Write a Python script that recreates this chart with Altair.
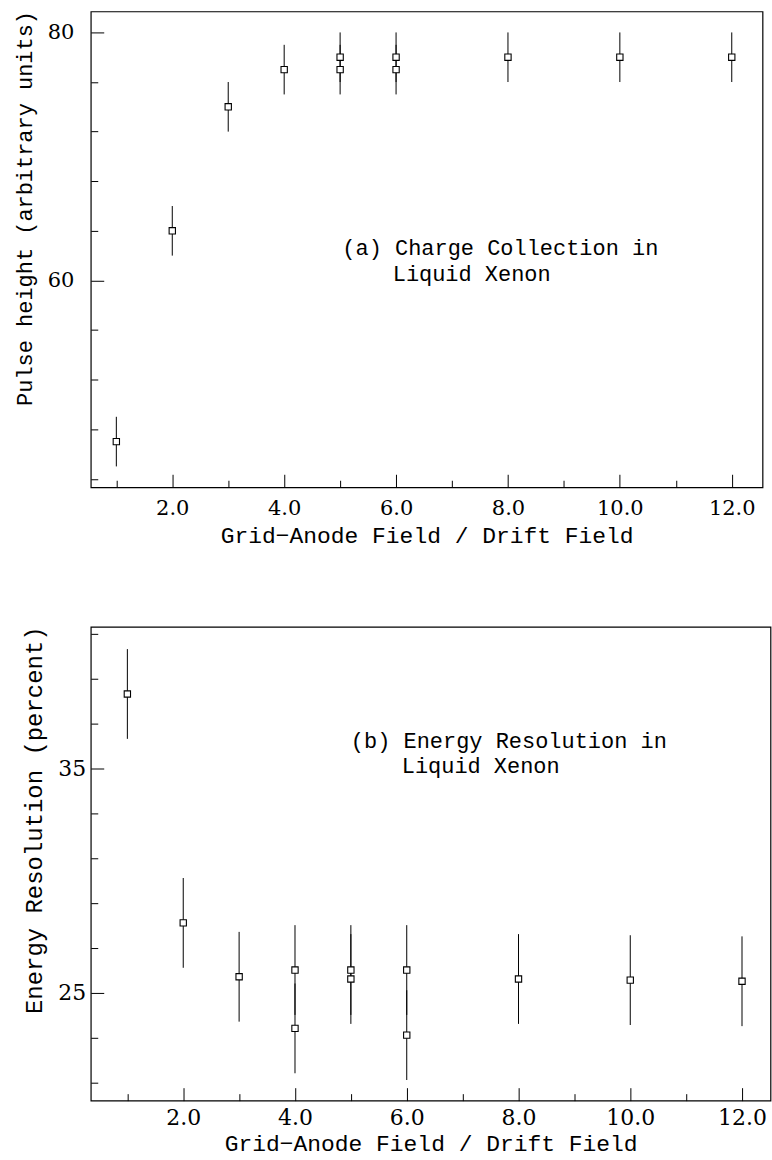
import altair as alt
import pandas as pd

# ---------------- data ----------------
# Panel (a): pulse height vs field ratio
a_x = [1, 2, 3, 4, 5, 5, 6, 6, 8, 10, 12]
a_y = [47, 64, 74, 77, 78, 77, 78, 77, 78, 78, 78]
a_err = [2, 2, 2, 2, 2, 2, 2, 2, 2, 2, 2]

# Panel (b): energy resolution vs field ratio
b_x = [1, 2, 3, 4, 4, 5, 5, 6, 6, 8, 10, 12]
b_y = [38.3, 28.1, 25.7, 26.0, 23.4, 26.0, 25.6, 26.0, 23.1, 25.6, 25.55, 25.5]
b_err = [2.0, 2.0, 2.0, 2.0, 2.0, 2.0, 2.0, 2.0, 2.0, 2.0, 2.0, 2.0]

# tick positions (majors labelled, minors unlabelled)
x_ticks = [1, 2, 3, 4, 5, 6, 7, 8, 9, 10, 11, 12]
x_major = [2, 4, 6, 8, 10, 12]
a_y_ticks = [44, 45, 46, 47, 48, 49, 50, 51, 52, 53, 54, 55, 56, 57, 58, 59, 60, 61,
             62, 63, 64, 65, 66, 67, 68, 69, 70, 71, 72, 73, 74, 75, 76, 77, 78, 79,
             80, 81]
a_y_major = [45, 50, 55, 60, 65, 70, 75, 80]
b_y_ticks = [21, 22, 23, 24, 25, 26, 27, 28, 29, 30, 31, 32, 33, 34, 35, 36, 37, 38,
             39, 40, 41]
b_y_major = [25, 30, 35, 40]

# annotations
a_text = ["(a) Charge Collection in", "Liquid Xenon"]
a_text_x = [5.04, 5.94]
a_text_y = [62.6, 60.55]
b_text = ["(b) Energy Resolution in", "Liquid Xenon"]
b_text_x = [5.0, 5.91]
b_text_y = [36.2, 35.08]

X_TITLE = "Grid\u2212Anode Field / Drift Field"
TICK = 13


def panel(fancy, xs_vals, ys_vals, errs, xdom, ydom, W, H, yticks, ymaj, ytitle,
          texts, tx, ty, lab_size, lab_pad_x, lab_pad_y, title_size,
          ytitle_x, xtitle_y, ann_size):
    xs = alt.Scale(domain=xdom, nice=False, zero=False)
    ys = alt.Scale(domain=ydom, nice=False, zero=False)
    df = pd.DataFrame({
        "x": xs_vals, "y": ys_vals,
        "lo": [v - e for v, e in zip(ys_vals, errs)],
        "hi": [v + e for v, e in zip(ys_vals, errs)],
    })
    common_x = dict(domain=False, grid=False, labelFlush=False, labelOverlap=False,
                    labelFont="DejaVu Serif", labelFontSize=lab_size, labelColor="black",
                    labelPadding=lab_pad_x, title=X_TITLE, titleFont="Liberation Mono",
                    titleFontSize=23, titleFontWeight="normal", titleColor="black",
                    titleBaseline="middle")
    common_y = dict(domain=False, grid=False, labelOverlap=False,
                    labelFont="DejaVu Serif", labelFontSize=lab_size, labelColor="black",
                    labelPadding=lab_pad_y, title=ytitle, titleFont="Liberation Mono",
                    titleFontSize=title_size, titleFontWeight="normal", titleColor="black",
                    titleY=-1, titleAlign="right", titleBaseline="middle")
    if fancy:
        # inward ticks: axis line moved inside the frame by the tick length,
        # minor ticks drawn as the outer half of a dashed tick
        xmaj_test = "datum.value % 2 === 1"
        ymaj_test = "datum.value % 5 !== 0"
        xaxis = alt.Axis(
            values=x_ticks,
            labelExpr="datum.value % 2 === 0 ? format(datum.value, '.1f') : ''",
            ticks=True, tickSize=TICK, tickColor="black", tickWidth=1, offset=-TICK,
            tickDash={"condition": {"test": xmaj_test, "value": [7, 6]}, "value": [20, 0]},
            tickDashOffset={"condition": {"test": xmaj_test, "value": 7}, "value": 0},
            titleY=xtitle_y + TICK, **common_x)
        yaxis = alt.Axis(
            values=yticks,
            labelExpr="datum.value % 5 === 0 ? format(datum.value, 'd') : ''",
            ticks=True, tickSize=TICK, tickColor="black", tickWidth=1, offset=-TICK,
            tickDash={"condition": {"test": ymaj_test, "value": [7, 6]}, "value": [20, 0]},
            tickDashOffset={"condition": {"test": ymaj_test, "value": 7}, "value": 0},
            titleX=ytitle_x - TICK, **common_y)
    else:
        xaxis = alt.Axis(values=x_major, format=".1f", ticks=False, tickSize=0,
                         titleY=xtitle_y, **common_x)
        yaxis = alt.Axis(values=ymaj, format="d", ticks=False, tickSize=0,
                         titleX=ytitle_x, **common_y)

    err = alt.Chart(df).mark_rule(color="black", strokeWidth=1).encode(
        x=alt.X("x:Q", scale=xs, axis=xaxis),
        y=alt.Y("lo:Q", scale=ys, axis=yaxis),
        y2="hi:Q",
    )
    pts = alt.Chart(df).mark_point(shape="square", filled=True, fill="white",
                                   stroke="black", strokeWidth=1.1, size=40,
                                   opacity=1).encode(
        x=alt.X("x:Q", scale=xs),
        y=alt.Y("y:Q", scale=ys),
    )
    tdf = pd.DataFrame({"t": texts, "x": tx, "y": ty})
    txt = alt.Chart(tdf).mark_text(align="left", baseline="middle",
                                   font="Liberation Mono", fontSize=ann_size,
                                   color="black").encode(
        x=alt.X("x:Q", scale=xs),
        y=alt.Y("y:Q", scale=ys),
        text="t:N")
    return alt.layer(err, pts, txt).properties(width=W, height=H)


def build(fancy):
    top = panel(fancy, a_x, a_y, a_err, [0.543, 12.55], [43.32, 81.69], 673.5, 477,
                a_y_ticks, a_y_major, "Pulse height (arbitrary units)",
                a_text, a_text_x, a_text_y, 21, 10, 17, 22, -66.5, 48, 22)
    bottom = panel(fancy, b_x, b_y, b_err, [0.345, 12.51], [20.18, 41.29], 681.5, 475,
                   b_y_ticks, b_y_major, "Energy Resolution (percent)",
                   b_text, b_text_x, b_text_y, 22, 7, 5, 24, -56.5, 43, 22)
    ch = alt.vconcat(top, bottom, spacing=73).properties(
        padding={"left": 12, "top": 8, "right": 0, "bottom": 0},
        background="white",
    ).configure_view(stroke="black", strokeWidth=1.2)
    ch.to_dict()  # validate against the schema
    return ch


try:
    chart = build(True)
except Exception:
    chart = build(False)

chart.save("out.html", embed_options={"renderer": "svg", "actions": False})
